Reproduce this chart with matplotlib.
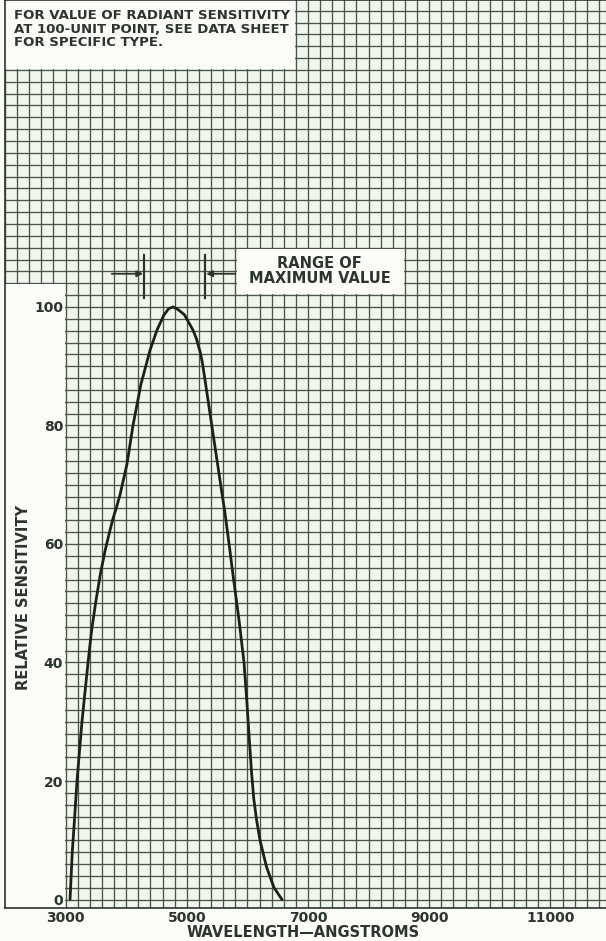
import matplotlib
matplotlib.use("Agg")
import matplotlib.pyplot as plt
from matplotlib.patches import Rectangle
from matplotlib.ticker import MultipleLocator

# relative spectral sensitivity curve, wavelength in angstroms
wavelength = [3073, 3110, 3150, 3188, 3270, 3370, 3430, 3502, 3575, 3650,
              3720, 3782, 3840, 3898, 4013, 4112, 4244, 4393, 4508, 4620,
              4700, 4772, 4850, 4960, 5102, 5160, 5218, 5260, 5300, 5380,
              5465, 5550, 5630, 5700, 5762, 5861, 5944, 5990, 6030, 6068,
              6105, 6150, 6208, 6315, 6439, 6571]
sensitivity = [0, 8, 14, 20, 30, 40, 45.5, 50.5, 55, 58.8,
               61.8, 64.3, 66.2, 68.3, 73.5, 80, 87, 92.7, 96.1, 98.6,
               99.7, 100, 99.6, 98.7, 96.1, 94.6, 92.5, 90.4, 87.7, 82.2,
               76.4, 70.6, 65.2, 59.8, 54.8, 47.2, 40, 33.5, 27.2, 21.5,
               17, 13.5, 10, 5.5, 2.0, 0]

x_ticks = [3000, 5000, 7000, 9000, 11000]
y_ticks = [0, 20, 40, 60, 80, 100]
range_of_max = [4300, 5300]

note_text = ("FOR VALUE OF RADIANT SENSITIVITY\n"
             "AT 100-UNIT POINT, SEE DATA SHEET\n"
             "FOR SPECIFIC TYPE.")
range_text = "RANGE OF\nMAXIMUM VALUE"

ink = "#2b352b"
paper = "#f1f6ec"
blank = "#fbfcf7"
grid_c = "#4a554a"

plt.rcParams["font.family"] = ["DejaVu Sans"]
plt.rcParams["font.weight"] = "bold"

W, H = 606, 941
XLIM = (2000, 11917)
YLIM = (-1.43, 151.8)
pos = [5 / W, (H - 908) / H, 601 / W, 908 / H]

fig = plt.figure(figsize=(W / 100, H / 100), dpi=100)
fig.patch.set_facecolor(blank)

# bottom layer: the ruled paper with its blank panels
paper_ax = fig.add_axes(pos)
paper_ax.set_facecolor(paper)
paper_ax.set_xlim(*XLIM)
paper_ax.set_ylim(*YLIM)
paper_ax.xaxis.set_major_locator(MultipleLocator(200))
paper_ax.yaxis.set_major_locator(MultipleLocator(2))
paper_ax.grid(which="major", color=grid_c, lw=0.95)
paper_ax.set_axisbelow(True)
paper_ax.tick_params(length=0, labelbottom=False, labelleft=False)
for s in paper_ax.spines.values():
    s.set_visible(False)

paper_ax.add_patch(Rectangle((2000, -1.43), 985, 105.3, facecolor=blank,
                             edgecolor="none", zorder=1))
paper_ax.add_patch(Rectangle((5820, 102.2), 2760, 7.6, facecolor=blank,
                             edgecolor="none", zorder=1))
paper_ax.add_patch(Rectangle((2000, 140.2), 4780, 11.6, facecolor=blank,
                             edgecolor="none", zorder=1))

# top layer: scales, curve and notes
ax = fig.add_axes(pos)
ax.patch.set_visible(False)
ax.set_xlim(*XLIM)
ax.set_ylim(*YLIM)
ax.set_xticks(x_ticks)
ax.set_yticks(y_ticks)
ax.tick_params(which="both", length=0)
ax.tick_params(axis="y", pad=-41.8, labelsize=10, labelcolor=ink)
ax.tick_params(axis="x", pad=2.0, labelsize=10, labelcolor=ink)
for s in ax.spines.values():
    s.set_color(ink)
    s.set_linewidth(1.2)
ax.spines["right"].set_visible(False)

ax.plot(wavelength, sensitivity, color="#1c201c", lw=2.0, zorder=4,
        solid_capstyle="round", solid_joinstyle="round")

# range of maximum value markers
for xm in range_of_max:
    ax.plot([xm, xm], [101.5, 108.8], color=ink, lw=1.6, zorder=4)
ax.annotate("", xy=(range_of_max[0] - 20, 105.6), xytext=(3760, 105.6),
            arrowprops=dict(arrowstyle="-|>", color=ink, lw=1.3,
                            mutation_scale=9, shrinkA=0, shrinkB=0), zorder=4)
ax.annotate("", xy=(range_of_max[1] + 20, 105.6), xytext=(5800, 105.6),
            arrowprops=dict(arrowstyle="-|>", color=ink, lw=1.3,
                            mutation_scale=9, shrinkA=0, shrinkB=0), zorder=4)

ax.text(7190, 106.0, range_text, ha="center", va="center", fontsize=10.5,
        color=ink, linespacing=1.0, zorder=5)
ax.text(2150, 146.9, note_text, ha="left", va="center", fontsize=9.5,
        color=ink, linespacing=1.05, zorder=5)

ax.set_ylabel("RELATIVE SENSITIVITY", fontsize=10.5, color=ink,
              fontweight="bold")
ax.yaxis.set_label_coords(26 / 601, (908 - 597) / 908)
ax.set_xlabel("WAVELENGTH\u2014ANGSTROMS", fontsize=10.5, color=ink,
              fontweight="bold")
ax.xaxis.set_label_coords(298 / 601, -17 / 908)

fig.savefig("out.png", dpi=100, facecolor=fig.get_facecolor())
